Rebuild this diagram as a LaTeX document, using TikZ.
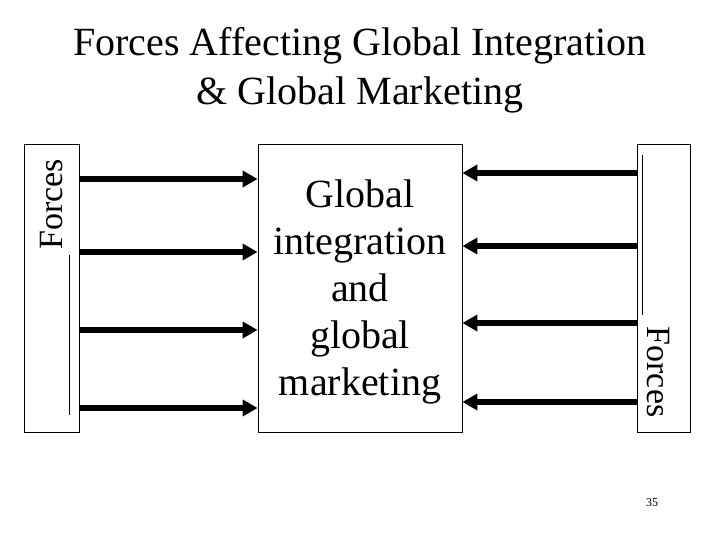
\documentclass[tikz,border=0pt]{standalone}
\usepackage{fontspec}
\setmainfont{Liberation Serif}
\usetikzlibrary{arrows.meta}
\begin{document}
\begin{tikzpicture}[x=1pt, y=-1pt,
		boite/.style={draw, line width=0.8pt, inner sep=0pt},
		grand/.style={align=center, font=\fontsize{40}{47}\selectfont},
		cote/.style={font=\fontsize{34}{38}\selectfont},
		force/.style={line width=6pt, -{Triangle[length=15pt, width=16pt]}}]
			\useasboundingbox (0,0) rectangle (720,540);
			%Titre
			\node[grand, font=\fontsize{40}{49}\selectfont] (titre) at (360,70) {Forces Affecting Global Integration\\\& Global Marketing};
			%Boites
			\node[boite, minimum width=55pt, minimum height=288pt] (gauche) at (51.5,288) {};
			\node[boite, minimum width=204pt, minimum height=288pt] (coeur) at (360,288) {};
			\node[boite, minimum width=53pt, minimum height=288pt] (droite) at (663.5,288) {};
			\node[grand] (texte) at (360,292) {Global\\integration\\and\\global\\marketing};
			\node[cote, rotate=90] (forceg) at (52,204.5) {Forces};
			\node[cote, rotate=-90] (forced) at (658,372) {Forces};
			\draw[line width=0.8pt] (69,255) -- (69,415);
			\draw[line width=0.8pt] (642,155) -- (642,315);
			%Fleches
			\foreach \y in {179,252,330,408}
				\draw[force] (gauche.east |- 0,\y) -- (coeur.west |- 0,\y);
			\foreach \y in {173,246,323,402}
				\draw[force] (droite.west |- 0,\y) -- (coeur.east |- 0,\y);
			%Numero de page
			\node[font=\fontsize{12}{14}\selectfont] (page) at (652,503) {35};
		\end{tikzpicture}
\end{document}
